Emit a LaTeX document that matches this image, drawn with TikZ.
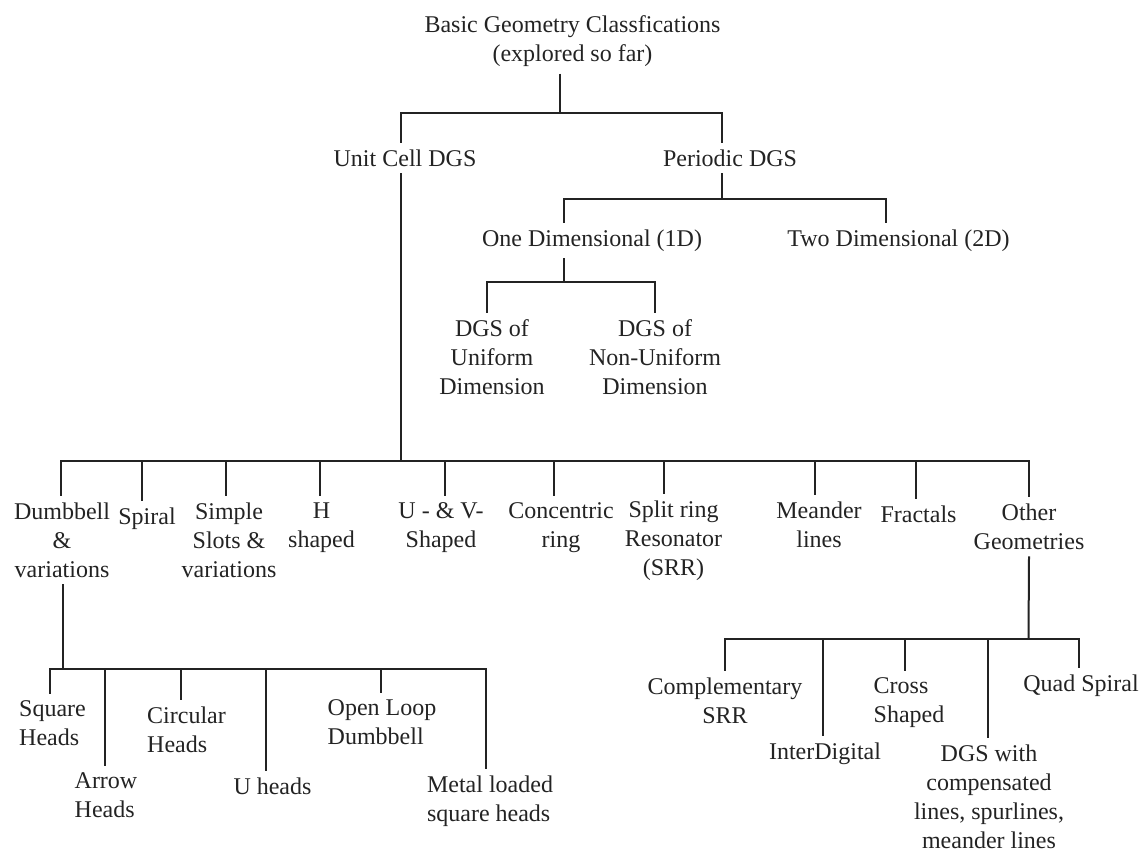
\documentclass[tikz,border=0pt]{standalone}
\usepackage{fontspec}
\setmainfont{Liberation Serif}
\usetikzlibrary{positioning, calc}
\definecolor{inkgray}{RGB}{35, 35, 35}

\begin{document}
\begin{tikzpicture}[x=1pt, y=-1pt, line width=2pt, color=inkgray,
    lbl/.style={anchor=north, align=center, inner xsep=1pt, inner ysep=6pt,
                font=\fontsize{24}{29}\selectfont},
    lbll/.style={lbl, align=left}]
  \useasboundingbox (0,0) rectangle (1147,852);
  % Root
  \node[lbl] (root) at (572.5, 8.5) {Basic Geometry Classfications\\(explored so far)};
  % Level 1
  \node[lbl] (unit) at (405, 142.5) {Unit Cell DGS};
  \node[lbl] (periodic) at (730, 142.5) {Periodic DGS};
  % Periodic DGS
  \node[lbl] (oned) at (592, 222.5) {One Dimensional (1D)};
  \node[lbl] (twod) at (898.5, 222.5) {Two Dimensional (2D)};
  \node[lbl] (dgsu) at (492, 312.5) {DGS of\\Uniform\\Dimension};
  \node[lbl] (dgsn) at (655, 312.5) {DGS of\\Non-Uniform\\Dimension};
  % Unit cell geometries
  \node[lbl] (dumb) at (62, 495.5) {Dumbbell\\\&\\variations};
  \node[lbl] (spiral) at (147, 500.5) {Spiral};
  \node[lbl] (slots) at (229, 495.5) {Simple\\Slots \&\\variations};
  \node[lbl] (hshape) at (321.5, 495.5) {H\\shaped};
  \node[lbl] (uv) at (441, 495.5) {U - \& V-\\Shaped};
  \node[lbl] (conc) at (561, 495.5) {Concentric\\ring};
  \node[lbl] (srr) at (673.5, 493.5) {Split ring\\Resonator\\(SRR)};
  \node[lbl] (meander) at (819, 494.5) {Meander\\lines};
  \node[lbl] (fract) at (918.5, 498.5) {Fractals};
  \node[lbl] (other) at (1029, 496.5) {Other\\Geometries};
  % Dumbbell variations
  \node[lbll] (sq) at (52.5, 693.5) {Square\\Heads};
  \node[lbll] (arrow) at (106, 765.5) {Arrow\\Heads};
  \node[lbll] (circ) at (186.5, 699.5) {Circular\\Heads};
  \node[lbll] (uh) at (272.5, 770.5) {U heads};
  \node[lbll] (open) at (382, 692.5) {Open Loop\\Dumbbell};
  \node[lbll] (metal) at (490, 768.5) {Metal loaded\\square heads};
  % Other geometries
  \node[lbl] (comp) at (725, 670.5) {Complementary\\SRR};
  \node[lbl] (inter) at (825, 735.5) {InterDigital};
  \node[lbll] (cross) at (909, 670.5) {Cross\\Shaped};
  \node[lbl] (dgsw) at (989, 737.5) {DGS with\\compensated\\lines, spurlines,\\meander lines};
  \node[lbl] (quad) at (1081, 667.5) {Quad Spiral};

  % Connectors
  \coordinate (j0) at (560, 112.5);
  \draw ([xshift=-12.5pt]root.south) -- (j0);
  \draw ([xshift=-4.5pt]unit.north) |- (j0) -| ([xshift=-8pt]periodic.north);

  \coordinate (j1) at (722, 198.5);
  \draw ([xshift=-8pt]periodic.south) -- (j1);
  \draw ([xshift=-28pt]oned.north) |- (j1) -| ([xshift=-12.5pt]twod.north);

  \coordinate (j2) at (564, 282);
  \draw ([xshift=-28pt]oned.south) -- (j2);
  \draw ([xshift=-5pt]dgsu.north) |- (j2) -| (dgsn.north);

  \coordinate (j3) at (400.5, 460.5);
  \draw ([xshift=-4.5pt]unit.south) -- (j3);
  \draw ([xshift=-1pt]dumb.north) |- (j3) -| (other.north);
  \foreach \c/\dx in {spiral/-5, slots/-3, hshape/-1.5, uv/4, conc/-7, srr/-9.5, meander/-4, fract/-3}
    \draw ([xshift=\dx pt]\c.north) -- ([xshift=\dx pt]\c.north |- j3);

  \coordinate (j4) at (62.5, 669);
  \draw ([xshift=0.5pt]dumb.south) -- (j4);
  \draw ([xshift=-2.5pt]sq.north) |- (j4) -| ([xshift=-4pt]metal.north);
  \foreach \c/\dx in {arrow/-1, circ/-5.5, uh/-6.5, open/-1}
    \draw ([xshift=\dx pt]\c.north) -- ([xshift=\dx pt]\c.north |- j4);

  \coordinate (j5) at (1028.5, 638.5);
  \draw (other.south) -- (j5);
  \draw (comp.north) |- (j5) -| ([xshift=-2pt]quad.north);
  \foreach \c/\dx in {inter/-2, cross/-4, dgsw/-1}
    \draw ([xshift=\dx pt]\c.north) -- ([xshift=\dx pt]\c.north |- j5);
\end{tikzpicture}
\end{document}
